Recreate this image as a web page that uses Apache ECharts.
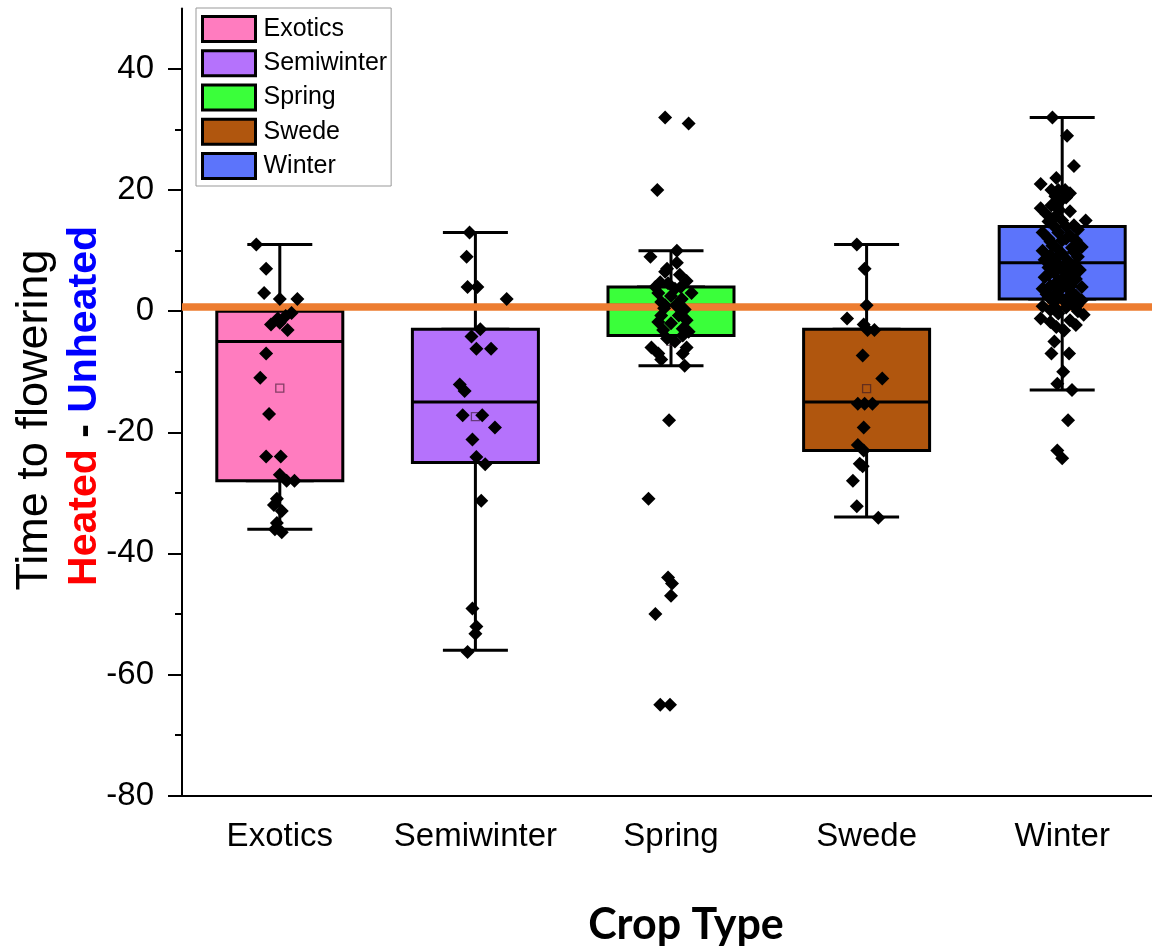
<!DOCTYPE html>
<html><head><meta charset="utf-8">
<script src="https://cdn.jsdelivr.net/npm/echarts@6/dist/echarts.min.js"></script>
<style>html,body{margin:0;padding:0;background:#fff}#c{width:1152px;height:949px}</style>
</head><body><div id="c"></div>
<script>
const categories = ['Exotics', 'Semiwinter', 'Spring', 'Swede', 'Winter'];
const boxColors = ['#FF7CBF', '#B572FC', '#3AFF3A', '#B0560E', '#5C74FB'];
const whiskerLow = [-36, -56, -9, -34, -13];
const q1 = [-28, -25, -4, -23, 2];
const median = [-5, -15, 1, -15, 8];
const q3 = [0, -3, 4, -3, 14];
const whiskerHigh = [11, 13, 10, 11, 32];
const means = [-12.7, -17.4, -5, -12.8, 6.5];
const refLine = 0.7;
const yMajorTicks = [-80, -60, -40, -20, 0, 20, 40];
const yMinorTicks = [-70, -50, -30, -10, 10, 30];

// [jitter (category units), value]
const pointsExotics = [
  [-0.12, 11], [-0.07, 7], [-0.08, 3], [0.0, 2], [0.09, 2],
  [-0.045, -2.2], [-0.01, -1.2], [0.03, -0.8], [0.06, -0.3], [0.04, -3.1], [0.0, -1.9],
  [-0.07, -7], [-0.1, -11], [-0.055, -17], [-0.07, -24], [0.005, -24], [0, -27], [0.035, -28], [0.075, -28],
  [-0.015, -31], [-0.03, -32], [0.01, -33], [-0.015, -35], [-0.025, -36], [0.01, -36.5]
];
const pointsSemiwinter = [
  [-0.03, 13], [-0.045, 9], [-0.04, 4], [0.01, 4], [0.16, 2], [0.025, -3], [-0.02, -4.2], [0.005, -6.2],
  [0.08, -6.2], [-0.08, -12.1], [-0.055, -13.2], [-0.065, -17.2], [0.035, -17.2], [0.1, -19.2],
  [-0.015, -21.2], [0.005, -24.1], [0.05, -25.3], [0.03, -31.3], [-0.015, -49.1], [0.005, -52.1],
  [0, -53.3], [-0.04, -56.3]
];
const pointsSpring = [
  [-0.03, 32], [0.09, 31], [-0.07, 20], [0.03, 10], [-0.105, 9], [0.03, 8], [-0.03, 6.5], [0.045, 6],
  [0.08, 5], [-0.015, 4.6], [-0.055, 4.8], [0.02, 3.7], [-0.065, 3], [0.105, 3], [0.055, 2], [-0.05, 1.5],
  [0.0, 2.5], [0.025, 1], [-0.035, 0.5], [0.07, 0.3], [-0.05, -0.7], [0.04, -0.7], [0.08, -1.5],
  [-0.065, -1.8], [0.0, -2], [0.06, -2.9], [-0.04, -3.1], [0.09, -3.4], [-0.02, -4.5], [-0.1, -6],
  [0.08, -6], [-0.065, -7], [0.06, -7], [-0.05, -8], [0.07, -9], [-0.01, -18], [-0.115, -31],
  [-0.015, -44], [0.005, -45], [0.0, -47], [-0.08, -50], [-0.055, -65], [-0.005, -65],
  [-0.03, 1], [0.05, 4], [-0.08, 4], [0.02, -5], [-0.02, 7], [0.06, -4]
];
const pointsSwede = [
  [-0.05, 11], [-0.01, 7], [0.0, 1], [-0.1, -1.2], [-0.015, -2.2], [0.005, -3.1], [0.04, -3.1],
  [-0.02, -7.3], [0.08, -11.1], [-0.045, -15.3], [-0.01, -15.3], [0.03, -15.3], [-0.015, -19.2],
  [-0.045, -22.1], [-0.015, -23], [-0.035, -25.2], [-0.02, -25.6], [-0.07, -28], [-0.05, -32.2], [0.06, -34.1]
];
const pointsWinter = [
  [-0.05, 32], [0.025, 29], [0.06, 24], [-0.03, 22], [-0.11, 21], [-0.055, 20], [-0.02, 20], [0.015, 20],
  [0.04, 19.5], [-0.035, 19], [0.0, 18.5], [-0.02, 18], [-0.11, 17], [-0.055, 17.5], [-0.015, 16.7],
  [-0.08, 16], [-0.04, 15.5], [0.0, 15], [0.12, 15], [-0.07, 14.8], [-0.04, 14], [0.02, 14], [0.06, 14.2],
  [0.08, 13.5], [-0.1, 13], [-0.02, 13], [0.04, 12.5], [-0.07, 12], [0.07, 11.7], [-0.06, 11.5], [0.0, 11.7],
  [-0.1, 10], [-0.03, 10.5], [0.05, 10.5], [0.1, 10.6], [0.0, 9.5], [-0.06, 9.2], [0.08, 9], [-0.09, 8.5],
  [0.03, 8.3], [-0.03, 8], [0.06, 7.5], [-0.07, 7.2], [0.0, 7], [0.09, 6.8], [-0.04, 6.3], [0.04, 6],
  [-0.09, 5.6], [0.07, 5.3], [-0.02, 5], [0.02, 4.6], [-0.06, 4.2], [0.1, 4], [-0.1, 3.7], [0.04, 3.4],
  [-0.03, 3], [0.07, 2.6], [-0.07, 2.3], [0.0, 2], [0.1, 1.8], [-0.04, 1.5], [0.05, 1.2], [-0.1, 0.8],
  [0.02, 0.6], [-0.06, 0.2], [0.08, 0], [-0.02, -0.4], [0.11, -0.6], [-0.11, -1.2], [0.04, -1.5],
  [-0.06, -1.8], [0.07, -2.3], [-0.03, -2.6], [0.01, -3.2], [-0.04, -5], [-0.055, -7], [0.035, -7],
  [0.005, -10], [-0.025, -12], [0.05, -13], [0.03, -18], [-0.025, -23], [0.0, -24.3],
  [0.02, 12], [-0.05, 10.8], [0.06, 9.8], [-0.02, 9], [0.035, 7.8], [-0.05, 7.4], [0.02, 6.6],
  [-0.07, 6], [0.06, 5.8], [0.0, 5.3], [-0.04, 4.4], [0.045, 4.2], [-0.01, 3.6], [-0.08, 2.8],
  [0.03, 2.3], [0.075, 0.9], [-0.03, 0.4], [0.04, 16.5], [0.02, 18.8]
];
const pointSets = [pointsExotics, pointsSemiwinter, pointsSpring, pointsSwede, pointsWinter];

const FONT = 'Liberation Sans';
const chart = echarts.init(document.getElementById('c'), null, { renderer: 'canvas' });

const series = [];
// whiskers with short caps
series.push({
  type: 'boxplot', name: 'whiskers', xAxisIndex: 0, yAxisIndex: 0, silent: true, z: 2,
  boxWidth: [65, 65],
  itemStyle: { color: '#fff', borderColor: '#000', borderWidth: 3 },
  data: categories.map((c, i) => [whiskerLow[i], q1[i], median[i], q3[i], whiskerHigh[i]])
});
// boxes
series.push({
  type: 'boxplot', name: 'boxes', xAxisIndex: 1, yAxisIndex: 0, silent: true, z: 3,
  boxWidth: [126, 126],
  itemStyle: { borderColor: '#000', borderWidth: 3 },
  data: categories.map((c, i) => ({ value: [q1[i], q1[i], median[i], q3[i], q3[i]], itemStyle: { color: boxColors[i] } }))
});
// means
series.push({
  type: 'scatter', name: 'means', xAxisIndex: 2, yAxisIndex: 0, silent: true, z: 4,
  symbol: 'rect', symbolSize: 8,
  itemStyle: { color: 'rgba(0,0,0,0)', borderColor: 'rgba(50,20,40,0.6)', borderWidth: 1.3, opacity: 1 },
  data: means.map((m, i) => [i, m])
});
// raw points
pointSets.forEach((pts, i) => {
  series.push({
    type: 'scatter', name: categories[i] + ' points', xAxisIndex: 2, yAxisIndex: 0, silent: true, z: 5,
    symbol: 'diamond', symbolSize: 14,
    itemStyle: { color: '#000', opacity: 1 },
    data: pts.map(p => [i + p[0], p[1]])
  });
});
// legend carriers
categories.forEach((c, i) => {
  series.push({
    type: 'bar', name: c, xAxisIndex: 0, yAxisIndex: 0, data: [],
    itemStyle: { color: boxColors[i], borderColor: '#000', borderWidth: 3 }
  });
});
// reference line
series.push({
  type: 'line', name: 'ref', xAxisIndex: 2, yAxisIndex: 0, data: [], z: 10, silent: true,
  markLine: {
    silent: true, symbol: ['none', 'none'], label: { show: false },
    lineStyle: { color: '#ED7D31', width: 7.5, type: 'solid' },
    emphasis: { disabled: true },
    data: [{ yAxis: refLine }]
  }
});

chart.setOption({
  animation: false,
  backgroundColor: '#fff',
  grid: { left: 182, top: 8.5, width: 978, height: 787, containLabel: false, outerBoundsMode: 'none' },
  legend: {
    data: categories, orient: 'vertical', left: 196, top: 8,
    icon: 'rect', itemWidth: 53, itemHeight: 25, itemGap: 6.25,
    padding: [7, 4, 6, 5],
    borderColor: '#999', borderWidth: 1, backgroundColor: '#fff',
    selectedMode: false,
    itemStyle: { borderColor: '#000', borderWidth: 3 },
    textStyle: { fontFamily: FONT, fontSize: 25, color: '#000', lineHeight: 25, padding: [0, 0, 0, 3] }
  },
  xAxis: [
    {
      type: 'category', data: categories, boundaryGap: true,
      axisLine: { onZero: false, lineStyle: { color: '#000', width: 2 } },
      axisTick: { alignWithLabel: true, length: 14, lineStyle: { color: '#000', width: 2 } },
      axisLabel: { fontFamily: FONT, fontSize: 33, color: '#000', margin: 25, interval: 0 },
      splitLine: { show: false }
    },
    { type: 'category', data: categories, show: false },
    { type: 'value', min: -0.5, max: 4.5, show: false }
  ],
  yAxis: [
    {
      type: 'value', min: -80, max: 50, interval: 20,
      axisLine: { show: true, onZero: false, lineStyle: { color: '#000', width: 2 } },
      axisTick: { show: true, length: 14, customValues: yMajorTicks, lineStyle: { color: '#000', width: 2 } },
      axisLabel: { fontFamily: FONT, fontSize: 33, color: '#000', margin: 28, customValues: yMajorTicks },
      splitLine: { show: false }
    },
    {
      type: 'value', min: -80, max: 50, interval: 10, position: 'left',
      axisLine: { show: false, onZero: false },
      axisTick: { show: true, length: 7, customValues: yMinorTicks, lineStyle: { color: '#000', width: 2 } },
      axisLabel: { show: false },
      splitLine: { show: false }
    }
  ],
  graphic: [
    {
      type: 'text', x: 35, y: 420, rotation: Math.PI / 2, silent: true,
      style: { text: 'Time to flowering', fill: '#000', font: '45px "Liberation Sans"', align: 'center', verticalAlign: 'middle' }
    },
    {
      type: 'text', x: 85, y: 406, rotation: Math.PI / 2, silent: true,
      style: {
        text: '{r|Heated}{k| - }{b|Unheated}', align: 'center', verticalAlign: 'middle',
        rich: {
          r: { fill: '#FF0000', fontSize: 41, fontWeight: 'bold', fontFamily: FONT },
          k: { fill: '#000', fontSize: 41, fontWeight: 'bold', fontFamily: FONT },
          b: { fill: '#0000FF', fontSize: 41, fontWeight: 'bold', fontFamily: FONT }
        }
      }
    },
    {
      type: 'text', x: 686, y: 925, silent: true,
      style: { text: 'Crop Type', fill: '#000', font: 'bold 43px Lato', align: 'center', verticalAlign: 'middle' }
    }
  ],
  series: series
});
</script></body></html>
